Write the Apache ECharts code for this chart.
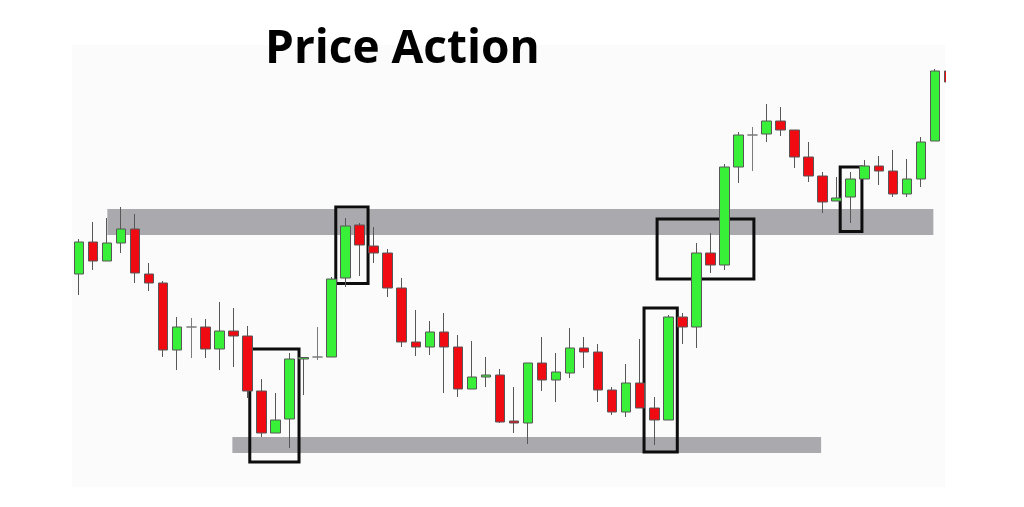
<!DOCTYPE html>
<html>
<head>
<meta charset="utf-8">
<script src="https://cdn.jsdelivr.net/npm/echarts@6/dist/echarts.min.js"></script>
<style>
html,body{margin:0;padding:0;background:#ffffff;}
#chart{width:1024px;height:507px;}
</style>
</head>
<body>
<div id="chart"></div>
<script>
// Candle values, in chart price units: [open, close, low, high]
const opens  = [226,258,239,257,271,226,217,150,173,173,151,169,164,109, 67, 81,141,143,143,222,275,254,247,212,158,153,168,153,111,123,125, 79, 77,137,120,127,152,148,110, 88,117, 92, 80,183,173,247,235,333,365,366,379,370,343,324,299,303,321,334,329,306,321,359,429];
const closes = [258,239,257,271,227,217,150,173,173,151,169,164,109, 67, 80,141,142.5,143,221,274,255,247,212,158,153,168,153,111,123,125, 78, 77,137,120,128,152,148,110, 88,117, 92, 80,183,173,247,235,333,365,365,379,370,343,324,298,302,321,334,329,306,321,358,429,418];
const lows   = [205,230,239,247,217,209,143,130,142,142,130,133,102, 63, 67, 52,105,140,143,213,224,237,203,153,144,145,107,103,111,113, 77, 67, 56,109, 98,122,132, 98, 85, 83, 92, 55, 80,156,152,227,230,317,329,358,364,332,318,287,299,277,321,315,303,303,313,359,415];
const highs  = [261,278,282,293,286,237,219,183,182,181,198,192,174,121,107,147,143,173,223,282,277,273,251,222,190,179,187,165,159,143,131,113,137,163,147,172,163,156,113,136,161,103,185,187,257,267,336,368,373,396,393,370,358,328,323,328,340,344,350,341,363,431,431];

// Support / resistance zones: [fromIndex, toIndex, lowPrice, highPrice]
const resistanceZone = [2.02, 60.89, 265, 291];
const supportZone    = [10.93, 52.89, 47, 63];
// Highlight boxes: [fromIndex, toIndex, lowPrice, highPrice]
const highlightBoxes = [
  [12.17, 15.68, 38, 151],
  [18.30, 20.60, 216.5, 293],
  [40.27, 42.64, 48, 192],
  [41.20, 48.10, 221, 281],
  [54.25, 55.80, 268.5, 333]
];
const titleText = 'Price Action';

const candleData = opens.map((o, i) => [i, o, closes[i], lows[i], highs[i]]);

const markData = [];
[resistanceZone, supportZone].forEach(z => {
  markData.push([
    {coord: [z[0], z[3]], itemStyle: {color: '#a9a9ae', borderWidth: 0}},
    {coord: [z[1], z[2]]}
  ]);
});
highlightBoxes.forEach(b => {
  markData.push([
    {coord: [b[0], b[3]], itemStyle: {color: 'rgba(0,0,0,0)', borderColor: '#0d0d0d', borderWidth: 3}},
    {coord: [b[1], b[2]]}
  ]);
});

const chart = echarts.init(document.getElementById('chart'), null, {renderer: 'canvas'});
chart.setOption({
  animation: false,
  backgroundColor: '#ffffff',
  grid: {
    left: 72, top: 45, width: 873, height: 442,
    show: true, backgroundColor: '#fbfbfb', borderWidth: 0
  },
  xAxis: {
    type: 'value', min: -0.5, max: 61.72,
    show: false, splitLine: {show: false}
  },
  yAxis: {
    type: 'value', min: 13, max: 455,
    show: false, splitLine: {show: false}, scale: true
  },
  graphic: [{
    type: 'text', left: 265, top: 27,
    style: {
      text: titleText,
      font: 'bold 46px "Open Sans"',
      fill: '#000000'
    }
  }, {
    // page margin to the right of the plot area (crops the partial last candle)
    type: 'rect', left: 946, top: 0, z: 100,
    shape: {width: 78, height: 507},
    style: {fill: '#ffffff'}
  }],
  series: [{
    type: 'candlestick',
    data: candleData,
    encode: {x: 0, y: [1, 2, 3, 4]},
    barWidth: 10,
    clip: true,
    itemStyle: {
      color: '#38f038',
      color0: '#f00a12',
      borderColor: '#575757',
      borderColor0: '#575757',
      borderColorDoji: '#7a7a7a',
      borderWidth: 1
    },
    markArea: {
      silent: true,
      label: {show: false},
      data: markData
    }
  }]
});
</script>
</body>
</html>
